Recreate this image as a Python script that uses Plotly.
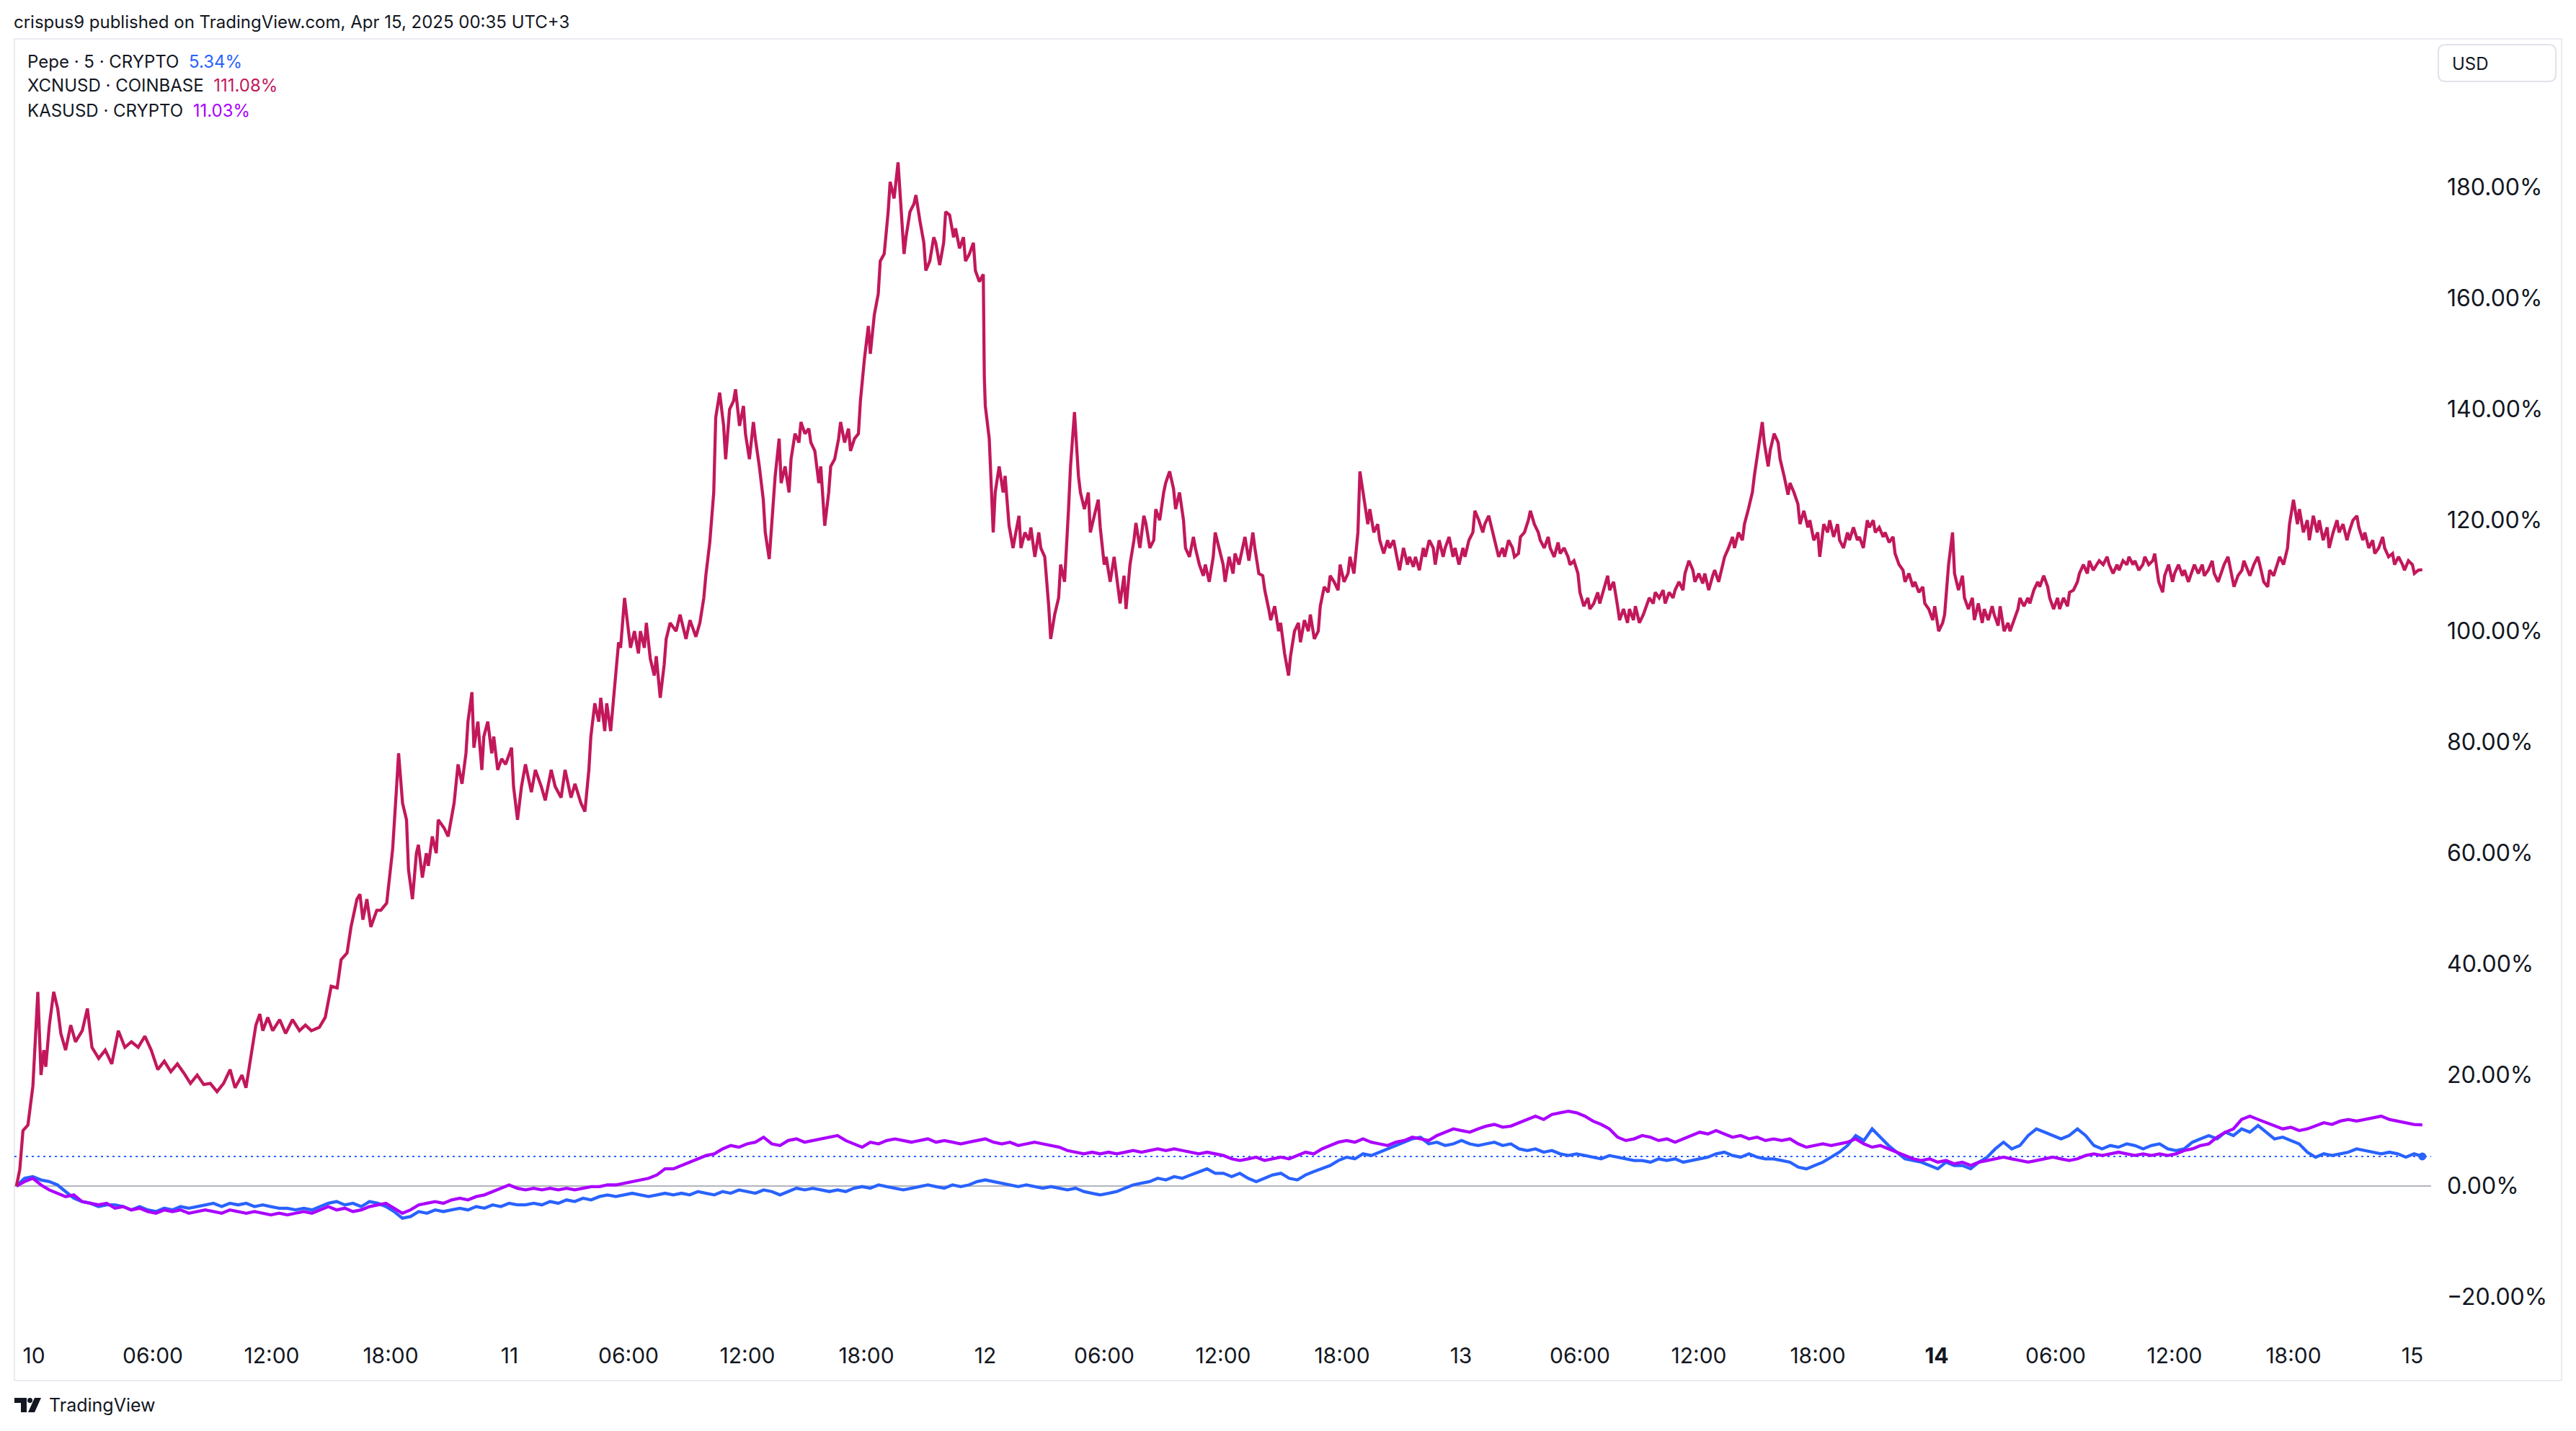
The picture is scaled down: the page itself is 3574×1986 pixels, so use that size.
import pandas as pd
import plotly.graph_objects as go

# ---------------- DATA ----------------
# XCNUSD (COINBASE) - % change, hours after 2025-04-10 00:00
xcn_hours = [
    -0.88, -0.71, -0.55, -0.3, -0.05, 0.2, 0.36, 0.5, 0.6, 0.78,
    1.0, 1.2, 1.36, 1.6, 1.86, 2.1, 2.44, 2.7, 2.93, 3.27,
    3.6, 3.93, 4.26, 4.59, 4.92, 5.26, 5.6, 5.92, 6.25, 6.58,
    6.91, 7.24, 7.58, 7.9, 8.24, 8.57, 8.9, 9.24, 9.57, 9.9,
    10.15, 10.5, 10.7, 11.0, 11.2, 11.4, 11.55, 11.8, 12.05, 12.4,
    12.7, 13.05, 13.4, 13.7, 14.0, 14.4, 14.7, 15.0, 15.3, 15.5,
    15.8, 16.0, 16.3, 16.45, 16.6, 16.8, 17.0, 17.3, 17.5, 17.8,
    17.9, 18.1, 18.3, 18.4, 18.6, 18.8, 18.9, 19.1, 19.3, 19.4,
    19.6, 19.8, 19.9, 20.1, 20.3, 20.4, 20.7, 20.9, 21.2, 21.4,
    21.6, 21.8, 21.9, 22.1, 22.2, 22.4, 22.6, 22.7, 22.9, 23.1,
    23.2, 23.4, 23.6, 23.8, 24.1, 24.2, 24.4, 24.6, 24.8, 25.1,
    25.3, 25.6, 25.8, 26.1, 26.3, 26.6, 26.8, 27.1, 27.3, 27.6,
    27.8, 28.0, 28.1, 28.3, 28.5, 28.6, 28.8, 28.9, 29.1, 29.3,
    29.5, 29.6, 29.8, 29.9, 30.1, 30.3, 30.5, 30.6, 30.8, 30.9,
    31.1, 31.3, 31.4, 31.6, 31.8, 31.9, 32.1, 32.4, 32.6, 32.9,
    33.1, 33.4, 33.6, 33.8, 33.9, 34.1, 34.3, 34.4, 34.6, 34.8,
    34.9, 35.1, 35.3, 35.4, 35.6, 35.8, 35.9, 36.1, 36.3, 36.4,
    36.6, 36.8, 36.9, 37.1, 37.3, 37.4, 37.6, 37.7, 37.9, 38.1,
    38.2, 38.4, 38.6, 38.7, 38.9, 39.1, 39.2, 39.4, 39.6, 39.7,
    39.9, 40.1, 40.2, 40.4, 40.6, 40.7, 40.9, 41.1, 41.2, 41.4,
    41.6, 41.7, 41.9, 42.1, 42.2, 42.4, 42.6, 42.7, 42.9, 43.1,
    43.2, 43.4, 43.6, 43.7, 43.9, 44.0, 44.2, 44.4, 44.5, 44.7,
    44.9, 45.0, 45.2, 45.4, 45.5, 45.7, 45.9, 46.0, 46.2, 46.4,
    46.5, 46.7, 46.9, 47.0, 47.2, 47.4, 47.5, 47.7, 47.9, 47.95,
    48.0, 48.2, 48.3, 48.4, 48.5, 48.7, 48.9, 49.0, 49.2, 49.4,
    49.5, 49.7, 49.8, 50.0, 50.2, 50.3, 50.5, 50.7, 50.8, 51.0,
    51.2, 51.3, 51.5, 51.7, 51.8, 52.0, 52.2, 52.3, 52.5, 52.7,
    52.8, 53.0, 53.2, 53.3, 53.5, 53.7, 53.8, 54.0, 54.1, 54.3,
    54.5, 54.6, 54.8, 55.0, 55.1, 55.3, 55.5, 55.6, 55.8, 56.0,
    56.1, 56.3, 56.5, 56.6, 56.8, 57.0, 57.1, 57.3, 57.5, 57.6,
    57.8, 58.0, 58.1, 58.3, 58.5, 58.6, 58.8, 59.0, 59.1, 59.3,
    59.5, 59.6, 59.8, 60.0, 60.1, 60.3, 60.5, 60.6, 60.8, 61.0,
    61.1, 61.3, 61.5, 61.6, 61.8, 62.0, 62.1, 62.3, 62.4, 62.6,
    62.8, 62.9, 63.1, 63.3, 63.4, 63.6, 63.8, 63.9, 64.1, 64.3,
    64.4, 64.6, 64.8, 64.9, 65.1, 65.3, 65.4, 65.6, 65.8, 65.9,
    66.1, 66.3, 66.4, 66.6, 66.8, 66.9, 67.1, 67.3, 67.4, 67.6,
    67.8, 67.9, 68.1, 68.3, 68.4, 68.6, 68.8, 68.9, 69.1, 69.3,
    69.4, 69.6, 69.7, 69.9, 70.1, 70.2, 70.4, 70.6, 70.7, 70.9,
    71.1, 71.2, 71.4, 71.6, 71.7, 71.9, 72.1, 72.2, 72.4, 72.6,
    72.7, 72.9, 73.1, 73.2, 73.4, 73.6, 73.7, 73.9, 74.1, 74.2,
    74.4, 74.6, 74.7, 74.9, 75.0, 75.2, 75.4, 75.5, 75.7, 75.9,
    76.0, 76.2, 76.4, 76.5, 76.7, 76.9, 77.0, 77.2, 77.4, 77.5,
    77.7, 77.9, 78.0, 78.2, 78.4, 78.5, 78.7, 78.9, 79.0, 79.2,
    79.4, 79.5, 79.7, 79.9, 80.0, 80.2, 80.4, 80.5, 80.7, 80.8,
    81.0, 81.2, 81.3, 81.5, 81.7, 81.8, 82.0, 82.2, 82.3, 82.5,
    82.7, 82.8, 83.0, 83.2, 83.3, 83.5, 83.7, 83.8, 84.0, 84.2,
    84.3, 84.5, 84.7, 84.8, 85.0, 85.2, 85.3, 85.5, 85.7, 85.8,
    86.0, 86.2, 86.3, 86.5, 86.7, 86.8, 87.0, 87.2, 87.3, 87.5,
    87.6, 87.8, 88.0, 88.1, 88.3, 88.5, 88.6, 88.8, 89.0, 89.1,
    89.3, 89.5, 89.6, 89.8, 90.0, 90.1, 90.3, 90.5, 90.6, 90.8,
    91.0, 91.1, 91.3, 91.5, 91.6, 91.8, 92.0, 92.1, 92.3, 92.5,
    92.6, 92.8, 92.9, 93.1, 93.3, 93.4, 93.6, 93.8, 93.9, 94.1,
    94.3, 94.4, 94.6, 94.8, 94.9, 95.1, 95.3, 95.4, 95.6, 95.8,
    95.9, 96.1, 96.3, 96.4, 96.6, 96.8, 96.9, 97.1, 97.3, 97.4,
    97.6, 97.8, 97.9, 98.1, 98.3, 98.4, 98.6, 98.8, 98.9, 99.1,
    99.2, 99.4, 99.6, 99.7, 99.9, 100.1, 100.2, 100.4, 100.6, 100.7,
    100.9, 101.1, 101.2, 101.4, 101.6, 101.7, 101.9, 102.1, 102.2, 102.4,
    102.6, 102.7, 102.9, 103.1, 103.2, 103.4, 103.6, 103.7, 103.9, 104.1,
    104.2, 104.4, 104.6, 104.7, 104.9, 105.1, 105.2, 105.4, 105.6, 105.7,
    105.9, 106.0, 106.2, 106.4, 106.5, 106.7, 106.9, 107.0, 107.2, 107.4,
    107.5, 107.7, 107.9, 108.0, 108.2, 108.4, 108.5, 108.7, 108.9, 109.0,
    109.2, 109.4, 109.5, 109.7, 109.9, 110.0, 110.2, 110.4, 110.5, 110.7,
    110.9, 111.0, 111.2, 111.4, 111.5, 111.7, 111.8, 112.0, 112.2, 112.3,
    112.5, 112.7, 112.8, 113.0, 113.2, 113.3, 113.5, 113.7, 113.8, 114.0,
    114.2, 114.3, 114.5, 114.7, 114.8, 115.0, 115.2, 115.3, 115.5, 115.7,
    115.8, 116.0, 116.2, 116.3, 116.5, 116.7, 116.8, 117.0, 117.2, 117.3,
    117.5, 117.6, 117.8, 118.0, 118.1, 118.3, 118.5, 118.6, 118.8, 119.0,
    119.1, 119.3, 119.5, 119.6, 119.8, 120.0, 120.1, 120.3, 120.5,
]
xcn_pct = [
    0, 3, 10, 11, 18, 35, 20, 24.5, 21.5, 29,
    35, 32, 27.5, 24.5, 29, 26, 28, 32, 25, 23,
    24.5, 22, 28, 25, 26, 25, 27, 24.5, 21, 22.5,
    20.6, 22, 20.3, 18.5, 20, 18.3, 18.5, 17, 18.5, 21,
    17.7, 20, 17.7, 24.5, 29, 31, 28, 30.4, 28, 30,
    27.5, 30, 28, 29, 28, 28.6, 30.4, 36, 35.7, 40.8,
    42, 46.7, 51.7, 52.6, 48, 51.7, 46.7, 49.7, 49.7, 51,
    54, 60.7, 72, 78, 69, 66, 57, 51.7, 60, 61.5,
    55.6, 60, 57.7, 63, 60, 66, 64.5, 63, 69, 76,
    72.5, 78, 83.7, 89, 79, 83.7, 75, 81, 83.7, 78,
    81, 75, 77, 76, 79, 72, 66, 72, 76, 71,
    75, 72, 69.5, 75, 72, 70, 75, 70, 72.5, 69,
    67.5, 75, 81, 87, 83.7, 88, 82, 87, 82, 89.7,
    98, 97, 106, 103, 97, 100, 96, 100, 97, 101.5,
    95, 92, 95.5, 88, 94, 98.6, 101.5, 100, 103, 98.6,
    102, 99, 101.5, 106, 110, 116, 125, 138.5, 143, 137,
    131, 140, 141.5, 143.6, 137, 140.6, 135.6, 131, 137.7, 134.7,
    129.7, 123.7, 117.8, 113, 123.7, 128, 134.7, 126.7, 129.7, 125,
    131, 135.6, 134, 137.7, 135.6, 136.5, 134, 132.5, 126.7, 129.7,
    119, 125, 129.7, 131, 134.7, 137.7, 134, 136.5, 132.5, 134.7,
    135.6, 141.5, 149, 155, 150, 157, 160.8, 166.7, 168, 175.6,
    181, 178, 184.5, 178.6, 168, 171, 175.6, 177, 178.6, 174,
    170, 165, 166.7, 171, 170, 166, 170, 175.6, 175, 171,
    172.6, 169, 171, 166.7, 168, 170, 165, 163, 164.3, 146,
    140.6, 134.7, 125, 117.8, 125, 129.7, 125, 128, 119, 115,
    117, 120.8, 115, 117.8, 116.4, 118.7, 113.4, 117.8, 115, 113.4,
    104.5, 98.6, 103, 106, 112, 108.9, 122, 129.7, 139.5, 128,
    125, 122, 125, 117.8, 120.8, 123.7, 118.7, 112, 113.4, 108.9,
    113.4, 110.4, 105, 110, 104, 112, 116.4, 119.5, 115, 120.8,
    119.5, 115, 116.4, 122, 120, 125, 126.7, 128.8, 125.6, 122,
    125, 120, 115, 113.4, 117, 115, 112, 110, 112, 108.9,
    113.4, 117.8, 115, 112, 108.9, 113.4, 110.4, 114, 112, 115,
    117, 112.7, 117.8, 115, 110.4, 110, 107.4, 104, 102, 104.5,
    100, 101.5, 96, 92, 95.5, 100, 101.5, 98, 102, 100,
    103, 98.6, 100, 104.5, 108, 107, 110, 108.9, 107.4, 112,
    108.9, 110.4, 113.4, 110.4, 117.8, 128.8, 123.7, 119.3, 122, 117.8,
    119.3, 116.4, 114, 116.4, 115, 116.4, 112.7, 111, 115, 112,
    113.4, 111.6, 113.4, 111, 115, 113.4, 116.4, 115, 112, 116.4,
    113.4, 115, 117, 113.4, 115, 112, 115, 113.4, 116.4, 117.8,
    121.7, 120, 117.8, 119.3, 120.8, 117.8, 116.4, 113.4, 115, 113.4,
    116.4, 115, 113.4, 114, 117, 117.8, 120, 121.7, 119.3, 117.8,
    116.4, 115, 117, 115, 113.4, 116, 114, 115, 113.4, 112,
    112.7, 110.4, 107, 104.5, 106, 104, 105, 107, 105, 107.4,
    110, 107.4, 108.9, 104.5, 102, 104, 101.5, 104, 102, 104.5,
    101.5, 103, 104, 106, 105, 107, 106, 107.4, 105, 107,
    106, 107.4, 108.9, 107.4, 110.4, 112.7, 111, 108.9, 110.4, 108.6,
    110.4, 107.4, 110, 111, 108.9, 112, 113.4, 115, 117, 115,
    117.8, 116.4, 119.3, 122, 125, 128, 132.6, 137.7, 134, 129.7,
    132.6, 135.6, 134, 131, 128, 124.6, 126.7, 125, 122.9, 119.3,
    121.7, 118.7, 120, 116.4, 117.8, 113.4, 119.3, 117.8, 120, 117,
    119.3, 116.4, 115, 117.8, 116.4, 118.7, 116.4, 117, 115, 120,
    118.7, 120, 117.8, 118.7, 117, 117.8, 116, 117, 114, 112,
    111, 108.9, 110.4, 108, 108.9, 107, 108, 105, 104, 102,
    104.5, 100, 101.5, 103, 112, 117.8, 110.4, 107.4, 110, 106,
    104, 106, 102, 105, 101.5, 104, 102, 104.5, 103, 101,
    104.5, 100, 101.5, 100, 102, 104, 106, 104.5, 106, 105,
    107.4, 108.9, 108, 110, 108, 106, 104, 106, 104, 106,
    104.5, 107, 107.4, 108.9, 110.4, 112, 110.4, 112.7, 111, 112,
    112.7, 112, 113.4, 112, 110.4, 112, 111, 112.7, 112, 113.4,
    112, 112.7, 111, 112, 113.4, 112, 112.7, 114, 108.9, 107,
    110, 112, 108.9, 110.4, 112, 110, 111, 108.9, 111, 112,
    110.4, 112, 110, 111, 112.7, 110.4, 108.9, 111, 112, 113.4,
    110, 108, 110, 111, 112.7, 111, 110, 112, 113.4, 112,
    108.9, 108, 111, 110, 112, 113.4, 112, 115, 119.3, 123.7,
    119.3, 122, 117.8, 120, 116.4, 120.8, 117.8, 120, 116.4, 118.7,
    115, 117.8, 120, 117.8, 119.3, 116.4, 117.8, 120, 120.8, 118.7,
    116.4, 117.8, 115, 116.4, 114, 115, 117, 115, 113.4, 114,
    112, 113.4, 112, 111, 112.7, 112, 110.4, 111, 111.08,
]

# Pepe (main symbol) and KASUSD - % change, evenly sampled between first and last bar
series_start = "2025-04-09 23:07"
series_end = "2025-04-15 00:30"
pepe_pct = [
    0.0, 1.4, 1.7, 1.1, 0.8, 0.2, -1.0, -2.2, -2.8, -3.1,
    -3.7, -3.4, -3.4, -3.7, -4.3, -3.7, -4.3, -4.6, -4.0, -4.3,
    -3.7, -4.0, -3.7, -3.4, -3.1, -3.7, -3.1, -3.4, -3.1, -3.7,
    -3.4, -3.7, -4.0, -4.0, -4.3, -4.0, -4.3, -3.7, -3.1, -2.8,
    -3.4, -3.1, -3.7, -2.8, -3.1, -3.7, -4.6, -5.8, -5.5, -4.6,
    -4.9, -4.3, -4.6, -4.3, -4.0, -4.3, -3.7, -4.0, -3.4, -3.7,
    -3.1, -3.4, -3.4, -3.1, -3.4, -2.8, -3.1, -2.5, -2.8, -2.2,
    -2.5, -1.9, -1.6, -1.9, -1.6, -1.3, -1.6, -1.9, -1.6, -1.3,
    -1.6, -1.3, -1.6, -1.0, -1.3, -1.6, -1.0, -1.3, -0.7, -1.0,
    -1.3, -0.7, -1.0, -1.6, -1.0, -0.4, -0.7, -0.4, -0.7, -1.0,
    -0.7, -1.0, -0.4, -0.1, -0.4, 0.2, -0.1, -0.4, -0.7, -0.4,
    -0.1, 0.2, -0.1, -0.4, 0.2, -0.1, 0.2, 0.8, 1.1, 0.8,
    0.5, 0.2, -0.1, 0.2, -0.1, -0.4, -0.1, -0.4, -0.7, -0.4,
    -1.0, -1.3, -1.6, -1.3, -1.0, -0.4, 0.2, 0.5, 0.8, 1.4,
    1.1, 1.7, 1.4, 2.0, 2.6, 3.1, 2.3, 2.3, 1.7, 2.3,
    1.4, 0.8, 1.4, 2.0, 2.3, 1.4, 1.1, 2.0, 2.6, 3.1,
    3.7, 4.6, 5.2, 4.9, 5.8, 5.5, 6.1, 6.7, 7.3, 7.9,
    8.5, 8.8, 7.6, 7.9, 7.3, 7.6, 8.2, 7.6, 7.3, 7.6,
    7.9, 7.3, 7.6, 6.7, 6.4, 6.7, 6.1, 6.4, 5.8, 5.5,
    5.8, 5.5, 5.2, 4.9, 5.5, 5.2, 4.9, 4.6, 4.6, 4.3,
    4.9, 4.6, 4.9, 4.3, 4.6, 4.9, 5.2, 5.8, 6.1, 5.5,
    5.2, 5.8, 5.2, 4.9, 4.9, 4.6, 4.3, 3.4, 3.1, 3.7,
    4.3, 5.2, 6.1, 7.3, 9.1, 8.2, 10.3, 8.8, 7.3, 6.1,
    4.9, 4.6, 4.3, 3.7, 3.1, 4.3, 3.7, 3.7, 3.1, 4.3,
    5.2, 6.7, 7.9, 6.7, 7.3, 9.1, 10.3, 9.7, 9.1, 8.5,
    9.1, 10.3, 9.1, 7.3, 6.7, 7.3, 7.0, 7.6, 7.3, 6.7,
    7.3, 7.6, 6.7, 6.4, 6.7, 7.9, 8.5, 9.1, 8.5, 9.7,
    9.1, 10.3, 9.7, 10.9, 9.7, 8.5, 8.8, 8.2, 7.6, 6.1,
    5.2, 5.8, 5.5, 5.8, 6.1, 6.7, 6.4, 6.1, 5.8, 6.1,
    5.8, 5.2, 5.8, 5.34,
]
kas_pct = [
    0.0, 0.8, 1.4, 0.2, -0.7, -1.3, -1.9, -1.6, -2.8, -3.1,
    -3.4, -3.1, -4.0, -3.7, -4.3, -4.0, -4.6, -4.9, -4.3, -4.6,
    -4.3, -4.9, -4.6, -4.3, -4.6, -4.9, -4.3, -4.6, -4.9, -4.6,
    -4.9, -5.2, -4.9, -5.2, -4.9, -4.6, -4.9, -4.3, -3.7, -4.3,
    -4.0, -4.6, -4.3, -3.7, -3.4, -3.1, -4.0, -4.9, -4.3, -3.4,
    -3.1, -2.8, -3.1, -2.5, -2.2, -2.5, -1.9, -1.6, -1.0, -0.4,
    0.2, -0.4, -0.7, -0.4, -0.7, -0.4, -0.7, -0.4, -0.7, -0.4,
    -0.1, -0.1, 0.2, 0.2, 0.5, 0.8, 1.1, 1.4, 2.0, 3.1,
    3.1, 3.7, 4.3, 4.9, 5.5, 5.8, 6.7, 7.3, 7.0, 7.6,
    7.9, 8.8, 7.6, 7.3, 8.2, 8.5, 7.9, 8.2, 8.5, 8.8,
    9.1, 8.2, 7.6, 7.0, 7.9, 7.6, 8.2, 8.5, 8.2, 7.9,
    8.2, 8.5, 7.9, 8.2, 7.9, 7.6, 7.9, 8.2, 8.5, 7.9,
    7.6, 7.9, 7.3, 7.6, 7.9, 7.6, 7.3, 7.0, 6.4, 6.1,
    5.8, 6.1, 5.8, 6.1, 5.8, 6.1, 6.4, 6.1, 6.4, 6.7,
    6.4, 6.7, 6.4, 6.1, 5.8, 6.1, 5.8, 5.5, 4.9, 4.6,
    4.9, 5.2, 4.6, 4.9, 5.2, 4.9, 5.5, 6.1, 5.8, 6.7,
    7.3, 7.9, 8.2, 7.9, 8.5, 7.9, 7.6, 7.3, 7.9, 8.2,
    8.8, 8.5, 8.2, 9.1, 9.7, 10.3, 10.0, 9.7, 10.3, 10.8,
    11.1, 10.6, 10.8, 11.4, 12.0, 12.6, 12.0, 12.9, 13.2, 13.5,
    13.2, 12.6, 11.7, 11.1, 10.3, 8.8, 8.2, 8.5, 9.1, 8.8,
    8.2, 8.5, 7.9, 8.5, 9.1, 9.7, 9.4, 10.0, 9.4, 8.8,
    9.1, 8.5, 8.8, 8.2, 8.5, 8.2, 8.5, 7.6, 7.0, 7.3,
    7.6, 7.3, 7.6, 7.9, 8.5, 7.6, 7.0, 7.3, 6.7, 6.1,
    5.5, 4.9, 4.6, 4.9, 4.3, 4.6, 4.0, 4.3, 3.7, 4.3,
    4.6, 4.9, 5.2, 4.9, 4.6, 4.3, 4.6, 4.9, 5.2, 4.9,
    4.6, 4.9, 5.5, 5.8, 5.5, 5.8, 6.1, 5.8, 5.5, 5.8,
    5.5, 5.8, 5.5, 5.8, 6.4, 6.7, 7.3, 7.6, 8.8, 9.7,
    10.3, 12.0, 12.6, 12.0, 11.4, 10.8, 10.3, 10.6, 10.0, 10.3,
    10.8, 11.4, 11.1, 11.7, 12.0, 11.7, 12.0, 12.3, 12.6, 12.0,
    11.7, 11.4, 11.1, 11.03,
]

y_tick_values = [-20, 0, 20, 40, 60, 80, 100, 120, 140, 160, 180]
y_tick_labels = ["\u221220.00%", "0.00%", "20.00%", "40.00%", "60.00%", "80.00%",
                 "100.00%", "120.00%", "140.00%", "160.00%", "180.00%"]
x_tick_hours = [0, 6, 12, 18, 24, 30, 36, 42, 48, 54, 60, 66, 72, 78, 84, 90, 96, 102, 108, 114, 120]
x_tick_labels = ["10", "06:00", "12:00", "18:00", "11", "06:00", "12:00", "18:00",
                 "12", "06:00", "12:00", "18:00", "13", "06:00", "12:00", "18:00",
                 "<b>14</b>", "06:00", "12:00", "18:00", "15"]

legend_names = ["Pepe \u00b7 5 \u00b7 CRYPTO", "XCNUSD \u00b7 COINBASE", "KASUSD \u00b7 CRYPTO"]
legend_values = ["5.34%", "111.08%", "11.03%"]

# ---------------- STYLE ----------------
C_PEPE = "#2962FF"
C_XCN = "#C2185B"
C_KAS = "#AA00FF"
TXT = "#131722"
FONT = "Inter, 'Open Sans', sans-serif"

W, H = 3574, 1986
PL, PR, PT, PB = 20, 3373, 55, 1845  # pane pixel box


def px(x):
    return (x - PL) / (PR - PL)


def py(y):
    return (PB - y) / (PB - PT)


base = pd.Timestamp("2025-04-10 00:00")
n = min(len(xcn_hours), len(xcn_pct))
xcn_x = base + pd.to_timedelta(xcn_hours[:n], unit="h")
pepe_x = pd.date_range(series_start, series_end, periods=len(pepe_pct))
kas_x = pd.date_range(series_start, series_end, periods=len(kas_pct))
tick_x = [base + pd.Timedelta(hours=h) for h in x_tick_hours]

fig = go.Figure()
fig.add_trace(go.Scatter(x=pepe_x, y=pepe_pct, mode="lines",
                         line=dict(color=C_PEPE, width=4.3), hoverinfo="skip"))
fig.add_trace(go.Scatter(x=kas_x, y=kas_pct, mode="lines",
                         line=dict(color=C_KAS, width=4.3), hoverinfo="skip"))
fig.add_trace(go.Scatter(x=xcn_x, y=xcn_pct[:n], mode="lines",
                         line=dict(color=C_XCN, width=4.3), hoverinfo="skip"))
fig.add_trace(go.Scatter(x=[pepe_x[-1]], y=[pepe_pct[-1]], mode="markers",
                         marker=dict(color=C_PEPE, size=11), hoverinfo="skip"))

x_lo = base - pd.Timedelta(hours=0.982)
x_hi = base + pd.Timedelta(hours=120.945)

fig.update_layout(
    width=W, height=H,
    margin=dict(l=PL, r=W - PR, t=PT, b=H - PB, autoexpand=False),
    paper_bgcolor="white", plot_bgcolor="white",
    showlegend=False,
    font=dict(family=FONT, color=TXT, size=30),
    xaxis=dict(type="date", range=[x_lo, x_hi], showgrid=False, zeroline=False,
               showline=False, ticks="", tickvals=tick_x, ticktext=x_tick_labels,
               tickfont=dict(size=30, color=TXT), ticklabelstandoff=16),
    yaxis=dict(side="right", range=[-25.84, 206.62], showgrid=False, zeroline=False,
               showline=False, ticks="", tickvals=y_tick_values, ticktext=y_tick_labels,
               tickfont=dict(size=32, color=TXT), ticklabelstandoff=21),
)

shapes = []
# outer chart frame
shapes.append(dict(type="rect", xref="paper", yref="paper",
                   x0=px(20), x1=px(3554), y0=py(1916), y1=py(54),
                   line=dict(color="#E9EBF0", width=2), layer="below"))
# zero line
shapes.append(dict(type="line", xref="paper", yref="y", x0=0, x1=1, y0=0, y1=0,
                   line=dict(color="#B2B5BE", width=2), layer="below"))
# last value line of main series
shapes.append(dict(type="line", xref="paper", yref="y", x0=0, x1=1,
                   y0=pepe_pct[-1], y1=pepe_pct[-1],
                   line=dict(color=C_PEPE, width=2, dash="3px,5px"), layer="below"))
# USD box (rounded)
bx0, bx1, by0, by1, r = 3383, 3546, 62, 113, 10
path = (f"M {px(bx0 + r)} {py(by0)} L {px(bx1 - r)} {py(by0)} "
        f"Q {px(bx1)} {py(by0)} {px(bx1)} {py(by0 + r)} L {px(bx1)} {py(by1 - r)} "
        f"Q {px(bx1)} {py(by1)} {px(bx1 - r)} {py(by1)} L {px(bx0 + r)} {py(by1)} "
        f"Q {px(bx0)} {py(by1)} {px(bx0)} {py(by1 - r)} L {px(bx0)} {py(by0 + r)} "
        f"Q {px(bx0)} {py(by0)} {px(bx0 + r)} {py(by0)} Z")
shapes.append(dict(type="path", xref="paper", yref="paper", path=path,
                   line=dict(color="#E0E3EB", width=2), fillcolor="white"))
# TradingView logo
tpath = (f"M {px(20)} {py(1940)} L {px(37)} {py(1940)} L {px(37)} {py(1960)} "
         f"L {px(29)} {py(1960)} L {px(29)} {py(1947)} L {px(20)} {py(1947)} Z")
shapes.append(dict(type="path", xref="paper", yref="paper", path=tpath,
                   line=dict(width=0), fillcolor=TXT))
shapes.append(dict(type="circle", xref="paper", yref="paper",
                   x0=px(38), x1=px(45), y0=py(1947), y1=py(1940),
                   line=dict(width=0), fillcolor=TXT))
spath = (f"M {px(48)} {py(1940)} L {px(57)} {py(1940)} L {px(48)} {py(1960)} "
         f"L {px(39)} {py(1960)} Z")
shapes.append(dict(type="path", xref="paper", yref="paper", path=spath,
                   line=dict(width=0), fillcolor=TXT))
fig.update_layout(shapes=shapes)

ann = []
ann.append(dict(xref="paper", yref="paper", x=px(17), y=py(30), xanchor="left",
                yanchor="middle", showarrow=False,
                text="crispus9 published on TradingView.com, Apr 15, 2025 00:35 UTC+3",
                font=dict(size=24, color=TXT, family=FONT)))
legend_colors = [C_PEPE, C_XCN, C_KAS]
legend_rows_y = [86, 119, 153]
for name, val, col, yy in zip(legend_names, legend_values, legend_colors, legend_rows_y):
    ann.append(dict(xref="paper", yref="paper", x=px(36), y=py(yy), xanchor="left",
                    yanchor="middle", showarrow=False,
                    text=f"{name}\u00a0\u00a0<span style='color:{col}'>{val}</span>",
                    font=dict(size=24, color=TXT, family=FONT)))
ann.append(dict(xref="paper", yref="paper", x=px(3400), y=py(88), xanchor="left",
                yanchor="middle", showarrow=False, text="USD",
                font=dict(size=24, color=TXT, family=FONT)))
ann.append(dict(xref="paper", yref="paper", x=px(66), y=py(1950), xanchor="left",
                yanchor="middle", showarrow=False, text="TradingView",
                font=dict(size=25, color=TXT, family=FONT)))
fig.update_layout(annotations=ann)

fig.write_html("out.html")
